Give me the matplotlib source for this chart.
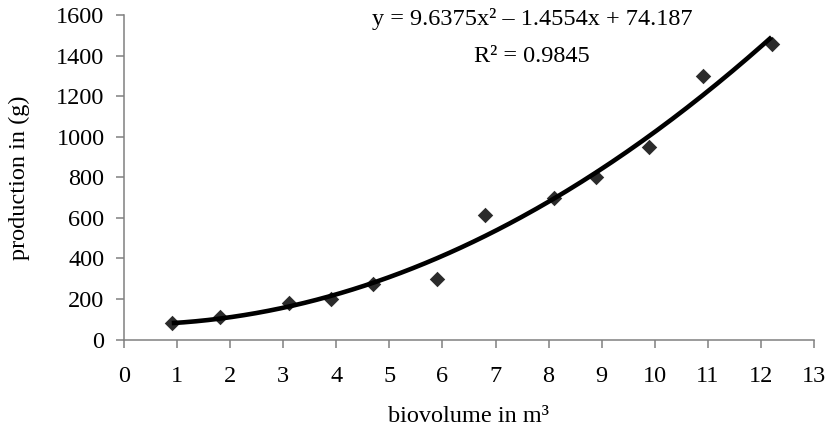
import numpy as np
import matplotlib
matplotlib.use("Agg")
import matplotlib.pyplot as plt

# data
biovolume = [0.9, 1.8, 3.1, 3.9, 4.7, 5.9, 6.8, 8.1, 8.9, 9.9, 10.9, 12.2]
production = [80, 110, 180, 200, 275, 300, 615, 700, 800, 950, 1300, 1455]

# trend line coefficients as printed on the chart
COEF = [9.6375, -1.4554, 74.187]
R2 = 0.9845

X_TICKS = list(range(0, 14))
Y_TICKS = list(range(0, 1601, 200))

plt.rcParams["font.family"] = ["Liberation Serif", "DejaVu Serif"]
FS = 17.5

W, H = 825, 430
fig = plt.figure(figsize=(W / 100, H / 100), dpi=100)
ax = fig.add_axes([124 / W, 1 - 339.5 / H, 690 / W, 324.5 / H])

ax.scatter(biovolume, production, marker="D", s=62, color="#2b2b2b", zorder=2, linewidths=0)

xs = np.linspace(min(biovolume), max(biovolume), 200)
ax.plot(xs, np.polyval(COEF, xs), color="black", lw=3.3, zorder=3, solid_capstyle="butt")

ax.set_xlim(0, 13)
ax.set_ylim(0, 1600)
ax.set_xticks(X_TICKS)
ax.set_yticks(Y_TICKS)
for s in ["top", "right"]:
    ax.spines[s].set_visible(False)
for s in ["left", "bottom"]:
    ax.spines[s].set_color("#808080")
    ax.spines[s].set_linewidth(1.1)
ax.tick_params(axis="both", direction="out", length=6, width=1.1, color="#808080", labelsize=FS)
ax.tick_params(axis="x", pad=13)
ax.tick_params(axis="y", pad=8)

# axis titles
fig.text(469 / W, 1 - 416 / H, "biovolume in m³", ha="center", va="center", fontsize=FS)
fig.text(19 / W, 1 - 178 / H, "production in (g)", ha="center", va="center", rotation=90, fontsize=FS)

eq = f"y = {COEF[0]}x² – {abs(COEF[1])}x + {COEF[2]}"
fig.text(532 / W, 1 - 19 / H, eq, ha="center", va="center", fontsize=FS)
fig.text(532 / W, 1 - 57 / H, f"R² = {R2}", ha="center", va="center", fontsize=FS)

fig.savefig("out.png", dpi=100)
